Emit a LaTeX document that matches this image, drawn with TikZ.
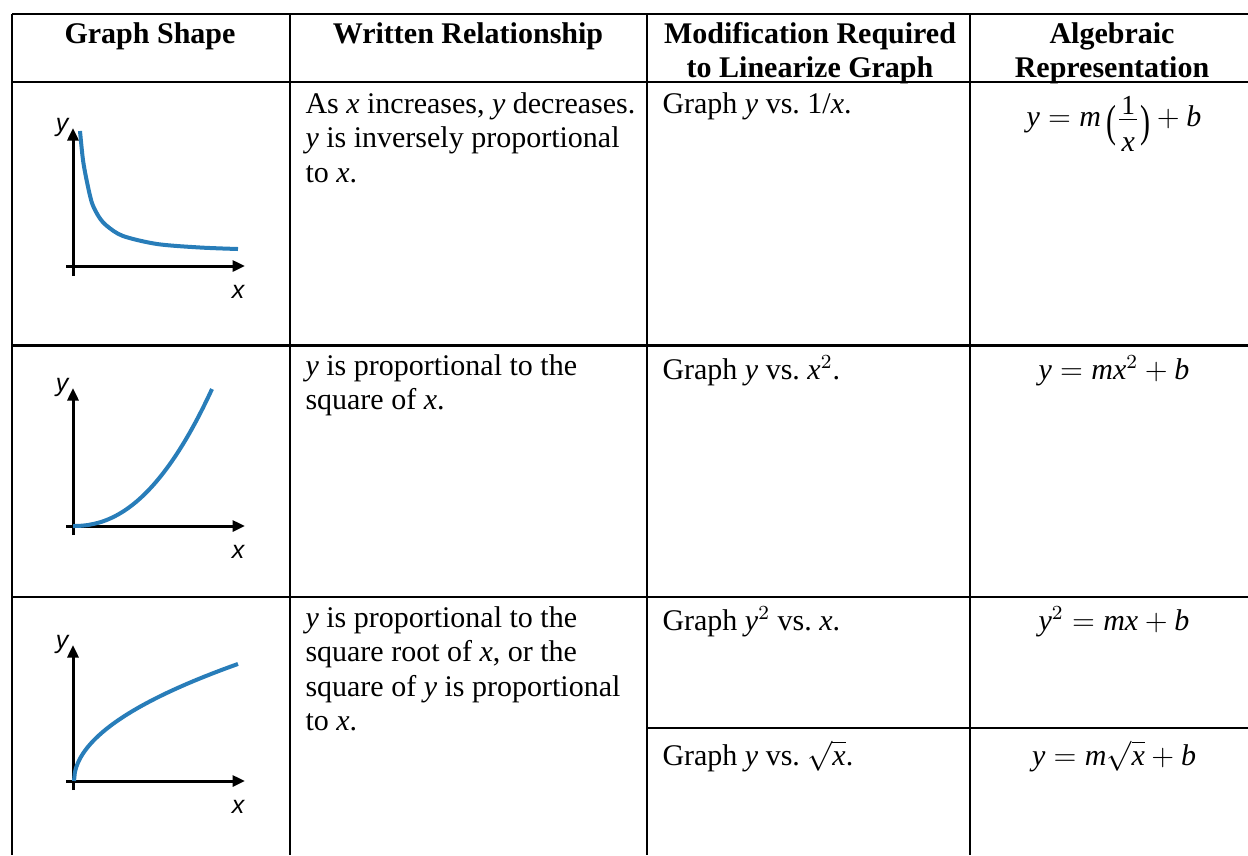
\documentclass[tikz,border=0pt,12pt]{standalone}
\usepackage{amsmath}
\usepackage{fontspec}
\setmainfont{Liberation Serif}
\newfontfamily\axlabelfont{Liberation Sans}
\usetikzlibrary{arrows.meta}
\definecolor{curveblue}{RGB}{40,125,185}
\newcommand\tallparen[1]{\raisebox{-3.8pt}{\scalebox{1}[1.5]{#1}}}
\begin{document}
\begin{tikzpicture}[x=0.4pt,y=-0.4pt,
  gridline/.style={line width=1.1pt},
  axisline/.style={line width=1.2pt,-{Triangle[length=5pt,width=4.4pt]}},
  curveline/.style={line width=1.6pt,color=curveblue},
  hdr/.style={font=\fontsize{12pt}{13.8pt}\selectfont\bfseries, inner sep=0pt, anchor=base},
  txt/.style={font=\fontsize{12pt}{13.8pt}\selectfont, inner sep=0pt, anchor=base west},
  eqn/.style={font=\fontsize{12pt}{13.8pt}\selectfont, inner sep=0pt, anchor=base},
  axlab/.style={font=\fontsize{10pt}{12pt}\selectfont\axlabelfont\itshape, inner sep=0pt, anchor=base}]
\useasboundingbox (0,0) rectangle (1248,855);
% table rules
\draw[gridline] (12,14) -- (1248,14);
\draw[gridline] (12,82) -- (1248,82);
\draw[gridline] (12,345.5) -- (1248,345.5);
\draw[gridline] (12,597) -- (1248,597);
\draw[gridline] (647,728) -- (1248,728);
\draw[gridline] (12,14) -- (12,855);
\draw[gridline] (290,14) -- (290,855);
\draw[gridline] (647,14) -- (647,855);
\draw[gridline] (970,14) -- (970,855);
% header
\node[hdr] (h1) at (150,43) {Graph Shape};
\node[hdr] (h2) at (468,43) {Written Relationship};
\node[hdr] (h3a) at (810,43) {Modification Required};
\node[hdr] (h3b) at (810,77.5) {to Linearize Graph};
\node[hdr] (h4a) at (1112,43) {Algebraic};
\node[hdr] (h4b) at (1112,77.5) {Representation};
% row 1
\node[txt] (r1a) at (305,113) {As \textit{x} increases, \textit{y} decreases.};
\node[txt] (r1b) at (305,147.5) {\textit{y} is inversely proportional};
\node[txt] (r1c) at (305,182) {to \textit{x}.};
\node[txt] (r1m) at (662,113) {Graph \textit{y} vs.\ 1/\textit{x}.};
\node[eqn] (r1e) at (1114,126.7) {$\textit{y} = \textit{m}\,\tallparen{(}\frac{\mbox{\fontsize{11pt}{11pt}\selectfont 1}}{\mbox{\hspace{1pt}\itshape x\rule{0pt}{12pt}\hspace{1pt}}}\tallparen{)} + \textit{b}$};
% row 2
\node[txt] (r2a) at (305,375) {\textit{y} is proportional to the};
\node[txt] (r2b) at (305,409.5) {square of \textit{x}.};
\node[txt] (r2m) at (662,379) {Graph \textit{y} vs.\ $\textit{x}^2$.};
\node[eqn] (r2e) at (1114,379) {$\textit{y} = \textit{mx}^2 + \textit{b}$};
% row 3
\node[txt] (r3a) at (305,627) {\textit{y} is proportional to the};
\node[txt] (r3b) at (305,661.5) {square root of \textit{x}, or the};
\node[txt] (r3c) at (305,696) {square of \textit{y} is proportional};
\node[txt] (r3d) at (305,730.5) {to \textit{x}.};
\node[txt] (r3m) at (662,630) {Graph $\textit{y}^2$ vs.\ \textit{x}.};
\node[eqn] (r3e) at (1114,630) {$\textit{y}^2 = \textit{mx} + \textit{b}$};
\node[txt] (r4m) at (662,765) {Graph \textit{y} vs.\ $\sqrt{\textit{x}}$.};
\node[eqn] (r4e) at (1114,765) {$\textit{y} = \textit{m}\sqrt{\textit{x}} + \textit{b}$};
% graph 1
\draw[axisline] (73,276) -- (73,128);
\draw[axisline] (66,266) -- (245,266);
\draw[curveline] plot[smooth] coordinates {(80,131) (83,160) (87,182) (92,203) (99,217) (107,226) (123,236) (157,244) (200,247.5) (238,249)};
\node[axlab] (gy1) at (62,131) {y};
\node[axlab] (gx1) at (238,298) {x};
% graph 2
\draw[axisline] (73,535) -- (73,388);
\draw[axisline] (66,526) -- (245,526);
\draw[curveline] plot[domain=0.2:139,samples=80] ({73+\x},{526-137*(\x/139)^2.2});
\node[axlab] (gy2) at (62,391) {y};
\node[axlab] (gx2) at (238,558) {x};
% graph 3
\draw[axisline] (73,790) -- (73,645);
\draw[axisline] (66,781) -- (245,781);
\draw[curveline] plot[domain=0:164,samples=200] ({74+\x},{781-9.14*sqrt(\x)});
\node[axlab] (gy3) at (62,648) {y};
\node[axlab] (gx3) at (238,813) {x};
\end{tikzpicture}
\end{document}
